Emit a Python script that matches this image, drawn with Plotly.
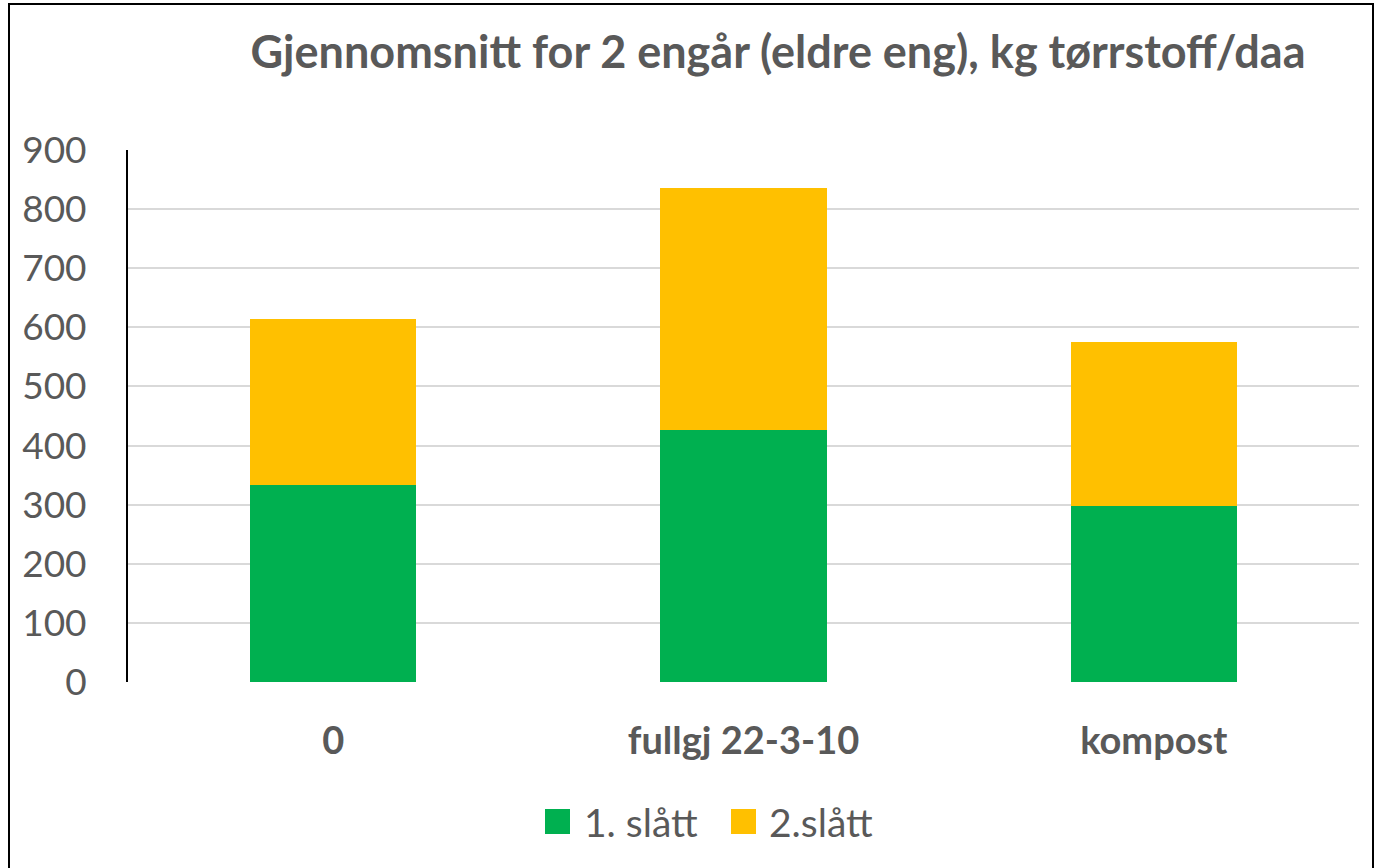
import plotly.graph_objects as go

categories = ["0", "fullgj 22-3-10", "kompost"]
slatt1 = [333, 427, 297]
slatt2 = [281, 408, 278]
series_names = ["1. slått", "2.slått"]
colors = ["#00B050", "#FFC000"]
title_text = "Gjennomsnitt for 2 engår (eldre eng), kg tørrstoff/daa"
y_ticks = [0, 100, 200, 300, 400, 500, 600, 700, 800, 900]

W, H = 1375, 868
L, R, T, B = 128, 16, 150, 186
pw, ph = W - L - R, H - T - B

def px(x):
    return (x - L) / pw

def py(y):
    return (H - B - y) / ph

FONT = "Lato"
GRAY = "#595959"

fig = go.Figure()
for name, vals, c in zip(series_names, [slatt1, slatt2], colors):
    fig.add_trace(go.Bar(x=categories, y=vals, name=name, showlegend=False,
                         marker=dict(color=c, line=dict(width=0))))

fig.update_layout(
    width=W, height=H,
    barmode="stack", bargap=0.595,
    plot_bgcolor="white", paper_bgcolor="white",
    margin=dict(l=L, r=R, t=T, b=B, pad=0),
    font=dict(family=FONT, color=GRAY),
    title=dict(text="<b>" + title_text + "</b>", x=px(778), xanchor="center",
               y=1 - 52 / H, yanchor="middle", xref="paper",
               font=dict(size=45, color=GRAY, family=FONT)),
    showlegend=False,
    yaxis=dict(range=[0, 900], tickvals=y_ticks, showgrid=True, gridcolor="#D9D9D9", gridwidth=2,
               showline=True, linecolor="black", linewidth=2, ticks="", ticklen=0,
               tickfont=dict(size=37, color=GRAY), zeroline=False, ticklabelstandoff=32),
    xaxis=dict(showline=False, ticks="", tickfont=dict(size=38, color=GRAY, family=FONT),
               ticklabelstandoff=33),
)
fig.update_xaxes(tickprefix="<b>", ticksuffix="</b>")

# manual legend (large square swatches)
legend_sq = [(545, 570), (731, 756)]
legend_tx = [582, 767]
for (x0, x1), tx, name, c in zip(legend_sq, legend_tx, series_names, colors):
    fig.add_shape(type="rect", xref="paper", yref="paper", x0=px(x0), x1=px(x1),
                  y0=py(834), y1=py(809), fillcolor=c, line=dict(width=0))
    fig.add_annotation(xref="paper", yref="paper", x=px(tx), y=py(822), xanchor="left",
                       yanchor="middle", text=name, showarrow=False,
                       font=dict(size=39, color=GRAY, family=FONT))

fig.add_shape(type="rect", xref="paper", yref="paper",
              x0=px(9), x1=px(1373), y0=py(872), y1=py(4),
              line=dict(color="black", width=2), fillcolor="rgba(0,0,0,0)", layer="above")

fig.write_html("out.html", config={"displayModeBar": False},
               post_script="document.body.style.margin='0';")
